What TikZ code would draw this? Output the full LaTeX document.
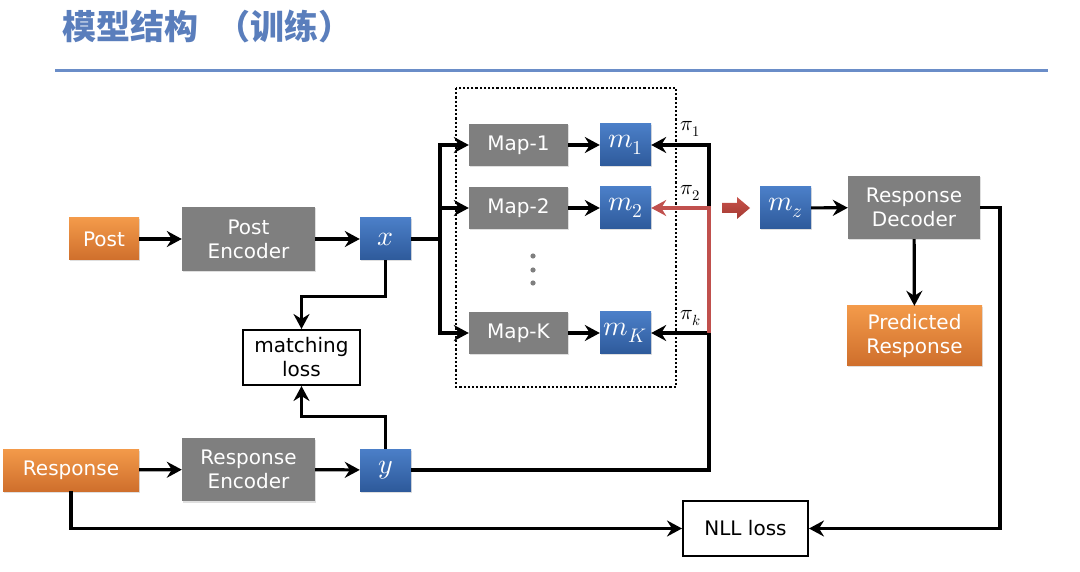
\documentclass[tikz,border=0pt]{standalone}
\usepackage{fontspec}
\usepackage{unicode-math}
\setmainfont{DejaVu Sans}
\setmathfont{Latin Modern Math}
\newfontfamily\cjk{Noto Sans CJK SC}
\usetikzlibrary{arrows.meta,shadows}
\definecolor{titleblue}{HTML}{5A7EBC}
\definecolor{lineblue}{HTML}{6A8DC8}
\definecolor{boxgray}{HTML}{7F7F7F}
\definecolor{otop}{HTML}{F39A4A}
\definecolor{obot}{HTML}{CF6F2C}
\definecolor{btop}{HTML}{4B7FC8}
\definecolor{bbot}{HTML}{2E5A9B}
\definecolor{redline}{HTML}{C0504D}
\definecolor{rtop}{HTML}{C8524A}
\definecolor{rbot}{HTML}{A33A33}
\tikzset{
  lbl/.style={font=\fontsize{20}{24}\selectfont},
  shad/.style={drop shadow={opacity=0.25, shadow xshift=1pt, shadow yshift=-1.5pt}},
  graybox/.style={fill=boxgray, text=white, inner sep=0pt, align=center, lbl, shad},
  orangebox/.style={top color=otop, bottom color=obot, text=white, inner sep=0pt, align=center, lbl, shad},
  bluebox/.style={top color=btop, bottom color=bbot, text=white, inner sep=0pt, minimum width=51pt, minimum height=42pt, font=\fontsize{28}{32}\selectfont, shad},
  whitebox/.style={draw=black, line width=2pt, fill=white, inner sep=0pt, align=center, lbl},
  conn/.style={line width=3.2pt, -{Stealth[length=15pt,width=16pt,inset=5pt]}},
  plain/.style={line width=3.2pt},
  pilabel/.style={font=\fontsize{21}{23}\selectfont, inner sep=0pt}
}
\begin{document}
\begin{tikzpicture}[x=1pt,y=-1pt]
\useasboundingbox (0,0) rectangle (1080,572);
% title
\node[anchor=west, text=titleblue, font=\cjk\bfseries\fontsize{34}{37}\selectfont, inner sep=0pt] (title) at (62,26) {模型结构\hspace{18pt}（训练）};
\draw[lineblue, line width=3pt] (55,71) -- (1048,71);
% dotted frame
\draw[line width=2.2pt, dash pattern=on 2.2pt off 2pt] (456,88) rectangle (676,387);
% nodes
\node[orangebox, minimum width=70pt, minimum height=42pt] (post) at (104,239) {Post};
\node[graybox, minimum width=133pt, minimum height=64pt] (penc) at (248.5,239) {Post\\Encoder};
\node[bluebox] (x) at (385.5,239) {$x$};
\node[graybox, minimum width=99pt, minimum height=42pt] (map1) at (518.5,145) {Map-1};
\node[graybox, minimum width=99pt, minimum height=42pt] (map2) at (518.5,208) {Map-2};
\node[graybox, minimum width=99pt, minimum height=42pt] (mapK) at (518.5,333) {Map-K};
\node[bluebox] (m1) at (625.5,145) {$m_1$};
\node[bluebox] (m2) at (625.5,208) {$m_2$};
\node[bluebox] (mK) at (625.5,333) {$m_K$};
\node[bluebox] (mz) at (785.5,208) {$m_z$};
\node[graybox, minimum width=132pt, minimum height=63pt] (dec) at (914,207.5) {Response\\Decoder};
\node[orangebox, minimum width=135pt, minimum height=59pt] (pred) at (914.5,335.5) {Predicted\\Response};
\node[orangebox, minimum width=136pt, minimum height=42pt] (resp) at (71,470) {Response};
\node[graybox, minimum width=133pt, minimum height=63pt] (renc) at (248.5,469.5) {Response\\Encoder};
\node[bluebox] (y) at (385.5,470) {$y$};
\node[whitebox, minimum width=117pt, minimum height=55pt] (ml) at (301.5,357.5) {matching\\loss};
\node[whitebox, minimum width=125pt, minimum height=55pt] (nll) at (745.5,528.5) {NLL loss};
% dots
\foreach \yy [count=\i] in {256,270,283} \fill[boxgray] (533,\yy) circle (2.6pt) node (dot\i) {};
% pi labels
\node[pilabel] (pi1) at (690,129) {$\pi_1$};
\node[pilabel] (pi2) at (690,193) {$\pi_2$};
\node[pilabel] (pik) at (691,318) {$\pi_k$};
% coordinates
\coordinate (br) at (440,239);
\coordinate (pr) at (709,470);
\coordinate (p2) at (709,208);
\coordinate (pk) at (709,333);
\coordinate (dr) at (1000,207.5);
% connectors
\draw[conn] (post) -- (penc);
\draw[conn] (penc) -- (x);
\draw[plain] (x.east) -- (br);
\draw[conn] (br) |- (map1);
\draw[conn] (br) |- (map2);
\draw[conn] (br) |- (mapK);
\draw[conn] (map1) -- (m1);
\draw[conn] (map2) -- (m2);
\draw[conn] (mapK) -- (mK);
\draw[conn] (y.east) -- (pr) |- (m1.east);
\draw[conn] (pk) -- (mK.east);
\draw[conn, redline] (pk) -- (p2) -- (m2.east);
\draw[conn] (mz) -- (dec);
\draw[conn] (dec) -- (pred);
\draw[conn] (dec.east) -- (dr) |- (nll.east);
\draw[conn] (resp) -- (renc);
\draw[conn] (renc) -- (y);
\draw[conn] (resp.south) |- (nll.west);
\draw[conn] (x.south) -- ++(0,36) -| (ml.north);
\draw[conn] (y.north) -- ++(0,-32) -| (ml.south);
% big red arrow
\shade[top color=rtop, bottom color=rbot] (722,203) -- (737,203) -- (737,197) -- (750,208) -- (737,219) -- (737,213) -- (722,213) -- cycle;
\end{tikzpicture}
\end{document}
